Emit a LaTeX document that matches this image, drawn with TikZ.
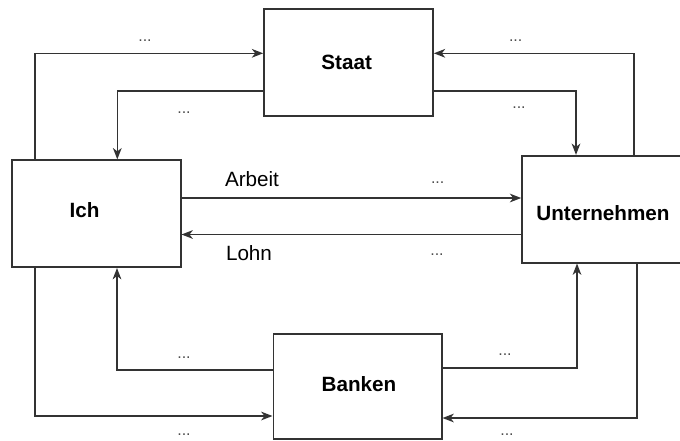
\documentclass[tikz,border=0pt]{standalone}
\usepackage{fontspec}
\setmainfont{Liberation Sans}
\usetikzlibrary{arrows.meta}
\begin{document}
\begin{tikzpicture}[x=0.75pt,y=-0.75pt,
  box/.style={draw=black!80, line width=1.2pt, rectangle, inner sep=0pt, fill=white},
  arr/.style={draw=black!80, line width=1.2pt, -{Stealth[length=8.5pt,width=6.5pt,inset=2.5pt]}},
  dots/.style={font=\fontsize{12}{14}\selectfont, text=black!70, inner sep=0pt},
  lbl/.style={font=\fontsize{15.5}{18}\selectfont, inner sep=0pt},
  ttl/.style={font=\fontsize{15.5}{18}\selectfont\bfseries}]
\useasboundingbox (0,0) rectangle (680,440);

\node[box, minimum width=126.75pt, minimum height=80.25pt] (staat) at (348.5,62.7) {};
\node[ttl] (tstaat) at (346.7,62) {Staat};
\node[box, minimum width=126.75pt, minimum height=80.25pt] (ich) at (96.2,213.7) {};
\node[ttl] (tich) at (84.5,210) {Ich};
\node[box, minimum width=126.3pt, minimum height=78.75pt] (banken) at (357.5,386.5) {};
\node[ttl] (tbanken) at (359,384) {Banken};
\node[box, minimum width=121.5pt, minimum height=80.25pt] (unt) at (603,209.2) {};
\node[ttl] (tunt) at (603,212.7) {Unternehmen};

\coordinate (c1) at (35,53.3);
\coordinate (c2) at (117.3,90.7);
\coordinate (c3) at (634,53.3);
\coordinate (c4) at (576,90.7);
\coordinate (c5) at (0,198);
\coordinate (c6) at (0,234.5);
\coordinate (c7) at (117,370);
\coordinate (c8) at (35,416);
\coordinate (c9) at (577,368);
\coordinate (c10) at (637,418);

\draw[arr] (ich.north -| c1) |- (staat.west |- c1);
\draw[arr] (staat.west |- c2) -| (ich.north -| c2);
\draw[arr] (unt.north -| c3) |- (staat.east |- c3);
\draw[arr] (staat.east |- c4) -| (unt.north -| c4);
\draw[arr] (ich.east |- c5) -- (unt.west |- c5);
\draw[arr] (unt.west |- c6) -- (ich.east |- c6);
\draw[arr] (banken.west |- c7) -| (ich.south -| c7);
\draw[arr] (ich.south -| c8) |- (banken.west |- c8);
\draw[arr] (banken.east |- c9) -| (unt.south -| c9);
\draw[arr] (unt.south -| c10) |- (banken.east |- c10);

\node[dots] (d1) at (145,40.7) {...};
\node[dots] (d2) at (184,113) {...};
\node[dots] (d3) at (515.7,41) {...};
\node[dots] (d4) at (519,108) {...};
\node[lbl] (arbeit) at (252,179) {Arbeit};
\node[dots] (d5) at (437.7,183) {...};
\node[lbl] (lohn) at (249,253) {Lohn};
\node[dots] (d6) at (437,255) {...};
\node[dots] (d7) at (184,357.7) {...};
\node[dots] (d8) at (184,435) {...};
\node[dots] (d9) at (505,355) {...};
\node[dots] (d10) at (507,435) {...};
\end{tikzpicture}
\end{document}
